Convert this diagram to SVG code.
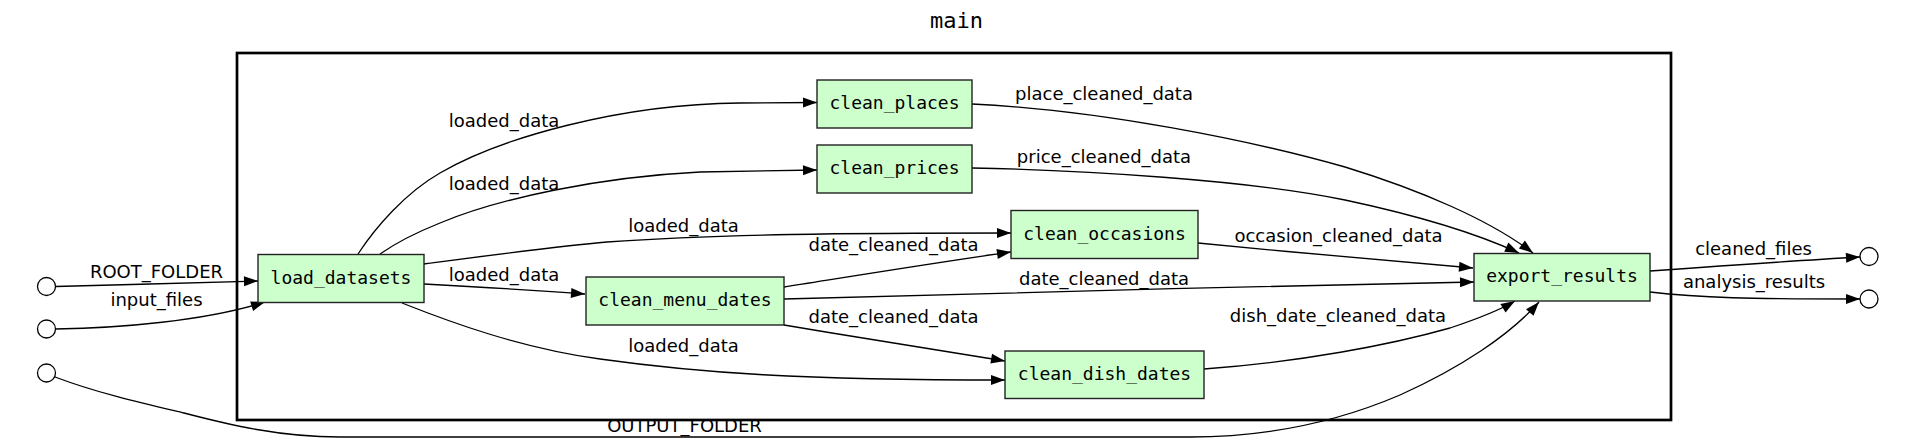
<svg xmlns="http://www.w3.org/2000/svg" width="1916" height="443" viewBox="0 0 1916 443">
<style>
.node rect{fill:#ccffcc;stroke:#222;stroke-width:1.4}
.node text{font-family:"DejaVu Sans Mono",monospace;font-size:18px;fill:#000;text-anchor:middle}
.io circle{fill:#fff;stroke:#000;stroke-width:1.3}
.edges path{fill:none;stroke:#000;stroke-width:1.3}
.lbl{font-family:"DejaVu Sans",sans-serif;font-size:18px;fill:#000;text-anchor:middle}
.title{font-family:"DejaVu Sans Mono",monospace;font-size:22px;fill:#000;text-anchor:middle}
.cluster{fill:none;stroke:#000;stroke-width:2.7}
</style>
<defs>
<marker id="arr" markerUnits="userSpaceOnUse" markerWidth="14" markerHeight="10" refX="14" refY="5" orient="auto" overflow="visible">
<path d="M0,0 L14,5 L0,10 z" fill="#000"/>
</marker>
</defs>
<rect width="1916" height="443" fill="#fff"/>
<text class="title" x="956.5" y="28">main</text>
<rect id="cluster_main" class="cluster" x="237" y="53" width="1434" height="367"/>

<g id="in_ROOT_FOLDER" class="io"><circle cx="46.5" cy="286.5" r="9"/></g>
<g id="in_input_files" class="io"><circle cx="46.5" cy="329" r="9"/></g>
<g id="in_OUTPUT_FOLDER" class="io"><circle cx="46.5" cy="373" r="9"/></g>
<g id="out_cleaned_files" class="io"><circle cx="1869" cy="256.5" r="9"/></g>
<g id="out_analysis_results" class="io"><circle cx="1869" cy="299" r="9"/></g>

<g class="edges" id="connectors">
<path marker-end="url(#arr)" d="M55.5,286.5 C120,285 200,282.5 258,281"/>
<path marker-end="url(#arr)" d="M55.5,329 C120,328 205,321 265,302"/>
<path marker-end="url(#arr)" d="M55,377 C100,394 150,405 184,413 C230,425 280,437 340,437 L1190,437 C1260,437 1330,425 1400,395 C1460,368 1510,335 1539,302"/>
<path marker-end="url(#arr)" d="M358,254 C375,228 405,193 440,173 C500,138 620,104 740,103 L817,102.5"/>
<path marker-end="url(#arr)" d="M380,254 C400,240 420,231 440,223 C500,198 600,177 700,172 L817,170"/>
<path marker-end="url(#arr)" d="M424,264 C500,254 560,246 607,242 C720,234 850,233 1011,233"/>
<path marker-end="url(#arr)" d="M424,284 C480,287 530,290 585,294"/>
<path marker-end="url(#arr)" d="M402,303 C450,322 520,348 600,359 C700,373 800,380 1005,380"/>
<path marker-end="url(#arr)" d="M784,287 C860,275 940,262 1011,252"/>
<path marker-end="url(#arr)" d="M784,299 C1000,292 1250,287 1474,282"/>
<path marker-end="url(#arr)" d="M784,325 C860,338 940,350 1005,361"/>
<path marker-end="url(#arr)" d="M972,104 C1100,110 1250,140 1345,167 C1420,190 1490,220 1533,253"/>
<path marker-end="url(#arr)" d="M972,168 C1080,170 1250,180 1345,200 C1420,216 1480,235 1519,253"/>
<path marker-end="url(#arr)" d="M1198,243 C1290,252 1390,261 1473,268"/>
<path marker-end="url(#arr)" d="M1204,369 C1300,362 1390,345 1450,328 C1480,318 1500,310 1515,301"/>
<path marker-end="url(#arr)" d="M1650,271 C1720,266 1790,261 1860,257"/>
<path marker-end="url(#arr)" d="M1650,292 C1700,298 1750,299 1860,299"/>
</g>

<g id="edge_labels">
<text class="lbl" x="156.5" y="278">ROOT_FOLDER</text>
<text class="lbl" x="156.5" y="306">input_files</text>
<text class="lbl" x="684.5" y="432">OUTPUT_FOLDER</text>
<text class="lbl" x="504" y="127">loaded_data</text>
<text class="lbl" x="504" y="190">loaded_data</text>
<text class="lbl" x="683.5" y="232">loaded_data</text>
<text class="lbl" x="504" y="281">loaded_data</text>
<text class="lbl" x="683.5" y="352">loaded_data</text>
<text class="lbl" x="893.5" y="251">date_cleaned_data</text>
<text class="lbl" x="1104" y="285">date_cleaned_data</text>
<text class="lbl" x="893.5" y="323">date_cleaned_data</text>
<text class="lbl" x="1104" y="100">place_cleaned_data</text>
<text class="lbl" x="1104" y="163">price_cleaned_data</text>
<text class="lbl" x="1338.5" y="242">occasion_cleaned_data</text>
<text class="lbl" x="1338" y="322">dish_date_cleaned_data</text>
<text class="lbl" x="1753.5" y="255">cleaned_files</text>
<text class="lbl" x="1754" y="288">analysis_results</text>
</g>

<g id="load_datasets" class="node"><rect x="258" y="254.5" width="166" height="48"/><text x="341" y="283.5">load_datasets</text></g>
<g id="clean_places" class="node"><rect x="817" y="80" width="155" height="48"/><text x="894.5" y="109">clean_places</text></g>
<g id="clean_prices" class="node"><rect x="817" y="145" width="155" height="48"/><text x="894.5" y="174">clean_prices</text></g>
<g id="clean_occasions" class="node"><rect x="1011" y="210.5" width="187" height="48"/><text x="1104.5" y="239.5">clean_occasions</text></g>
<g id="clean_menu_dates" class="node"><rect x="586" y="277" width="198" height="48"/><text x="685" y="306">clean_menu_dates</text></g>
<g id="clean_dish_dates" class="node"><rect x="1005" y="351" width="199" height="47.5"/><text x="1104.5" y="379.5">clean_dish_dates</text></g>
<g id="export_results" class="node"><rect x="1474" y="253.5" width="176" height="47.5"/><text x="1562" y="282">export_results</text></g>
</svg>
